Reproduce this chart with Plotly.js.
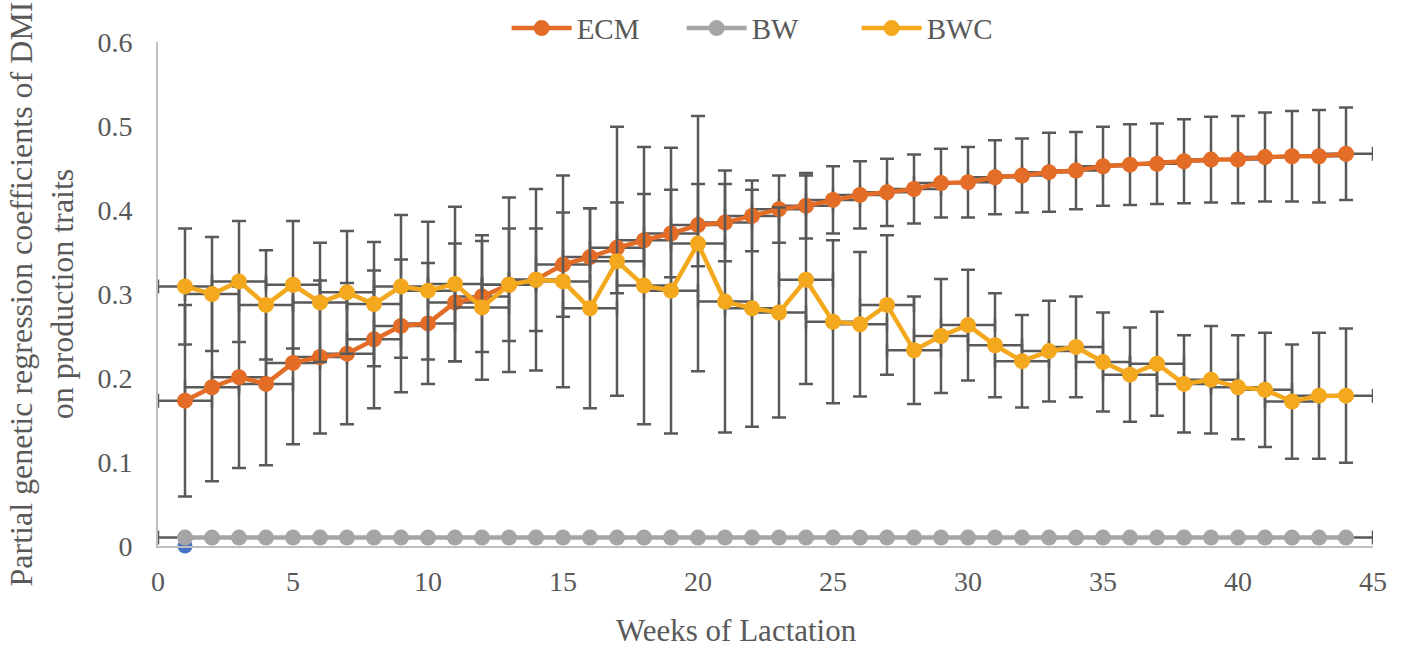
<!DOCTYPE html>
<html>
<head>
<meta charset="utf-8">
<script src="https://cdn.plot.ly/plotly-3.0.1.min.js"></script>
<style>html,body{margin:0;padding:0;background:#fff;}#chart{width:1405px;height:647px;}</style>
</head>
<body>
<div id="chart"></div>
<script>
const weeks = [1,2,3,4,5,6,7,8,9,10,11,12,13,14,15,16,17,18,19,20,21,22,23,24,25,26,27,28,29,30,31,32,33,34,35,36,37,38,39,40,41,42,43,44];
const ecm = [0.173,0.189,0.201,0.193,0.218,0.225,0.229,0.246,0.262,0.265,0.290,0.297,0.311,0.317,0.335,0.344,0.355,0.364,0.372,0.382,0.385,0.393,0.401,0.405,0.412,0.418,0.421,0.425,0.432,0.433,0.439,0.441,0.445,0.447,0.452,0.454,0.455,0.458,0.460,0.460,0.463,0.464,0.464,0.467];
const ecmErr = [0.114,0.112,0.108,0.097,0.097,0.091,0.084,0.082,0.079,0.072,0.070,0.066,0.067,0.061,0.062,0.058,0.054,0.055,0.052,0.049,0.046,0.042,0.040,0.039,0.040,0.040,0.040,0.041,0.041,0.042,0.044,0.044,0.047,0.046,0.047,0.048,0.048,0.050,0.051,0.052,0.053,0.054,0.055,0.055];
const bw = [0.010,0.010,0.010,0.010,0.010,0.010,0.010,0.010,0.010,0.010,0.010,0.010,0.010,0.010,0.010,0.010,0.010,0.010,0.010,0.010,0.010,0.010,0.010,0.010,0.010,0.010,0.010,0.010,0.010,0.010,0.010,0.010,0.010,0.010,0.010,0.010,0.010,0.010,0.010,0.010,0.010,0.010,0.010,0.010];
const bwErr = 0.002;
const bwc = [0.309,0.300,0.315,0.287,0.311,0.290,0.302,0.288,0.309,0.304,0.312,0.284,0.311,0.317,0.315,0.283,0.339,0.310,0.304,0.360,0.291,0.283,0.278,0.317,0.267,0.264,0.287,0.233,0.250,0.263,0.239,0.220,0.232,0.237,0.219,0.204,0.217,0.193,0.198,0.189,0.186,0.172,0.179,0.179];
const bwcErr = [0.069,0.068,0.072,0.065,0.076,0.071,0.073,0.074,0.085,0.082,0.092,0.086,0.104,0.108,0.126,0.119,0.160,0.165,0.170,0.152,0.156,0.141,0.125,0.124,0.097,0.086,0.083,0.064,0.068,0.066,0.062,0.055,0.060,0.060,0.059,0.056,0.062,0.058,0.064,0.062,0.068,0.068,0.075,0.080];
const xErr = 1;
const extraX = [1];
const extraY = [0];
const xTitle = 'Weeks of Lactation';
const yTitle = 'Partial genetic regression coefficients of DMI<br>on production traits';

const errCol = '#595959';
function errY(arr){ return {type:'data', array: arr, visible:true, color: errCol, thickness: 2.5, width: 7}; }
function errYc(v){ return {type:'constant', value: v, visible:true, color: errCol, thickness: 2.5, width: 7}; }
const errX = {type:'constant', value: xErr, visible:true, color: errCol, thickness: 2.5, width: 7};

const traces = [
  {x: extraX, y: extraY, mode:'markers', showlegend:false, marker:{color:'#4472C4', size:15}, hoverinfo:'skip', cliponaxis:false},
  {x: weeks, y: ecm, name:'ECM', mode:'lines+markers', line:{color:'#E36C26', width:4.5}, marker:{color:'#E36C26', size:16}, error_y: errY(ecmErr), error_x: errX},
  {x: weeks, y: bw, name:'BW', mode:'lines+markers', line:{color:'#A5A5A5', width:4.5}, marker:{color:'#A5A5A5', size:16}, error_y: errYc(bwErr), error_x: errX},
  {x: weeks, y: bwc, name:'BWC', mode:'lines+markers', line:{color:'#F4A81E', width:4.5}, marker:{color:'#F4A81E', size:16}, error_y: errY(bwcErr), error_x: errX}
];

const layout = {
  width: 1405, height: 647,
  margin: {l:158, r:32, t:42, b:101, autoexpand:false},
  paper_bgcolor:'#fff', plot_bgcolor:'#fff',
  font: {family:'"Liberation Serif", "Times New Roman", serif', color:'#595959', size:28},
  showlegend: true,
  legend: {orientation:'h', xref:'paper', x:0.503, xanchor:'center', yref:'paper', y:1.078, yanchor:'top',
           font:{size:29, color:'#595959'}, itemwidth:60, entrywidth:100, entrywidthmode:'pixels',
           traceorder:'normal', tracegroupgap:0, borderwidth:0, bgcolor:'rgba(0,0,0,0)'},
  xaxis: {
    range:[0,45], dtick:5, tick0:0, showgrid:false, zeroline:false, automargin:false,
    showline:true, linecolor:'#BFBFBF', linewidth:2, ticks:'', ticklabelstandoff:9,
    tickfont:{size:28, color:'#595959'}
  },
  yaxis: {
    range:[0,0.6], dtick:0.1, tick0:0, showgrid:false, zeroline:false, automargin:false,
    showline:true, linecolor:'#BFBFBF', linewidth:2, ticks:'', ticklabelstandoff:18,
    tickfont:{size:28, color:'#595959'},
    title:{text: yTitle, font:{size:32, color:'#595959'}, standoff:14}
  },
  annotations: [
    {text: xTitle, xref:'paper', yref:'paper', x:0.4765, y:-0.1667, xanchor:'center', yanchor:'middle', showarrow:false, font:{size:31, color:'#595959'}}
  ]
};

Plotly.newPlot('chart', traces, layout, {displayModeBar:false, staticPlot:true});
</script>
</body>
</html>
